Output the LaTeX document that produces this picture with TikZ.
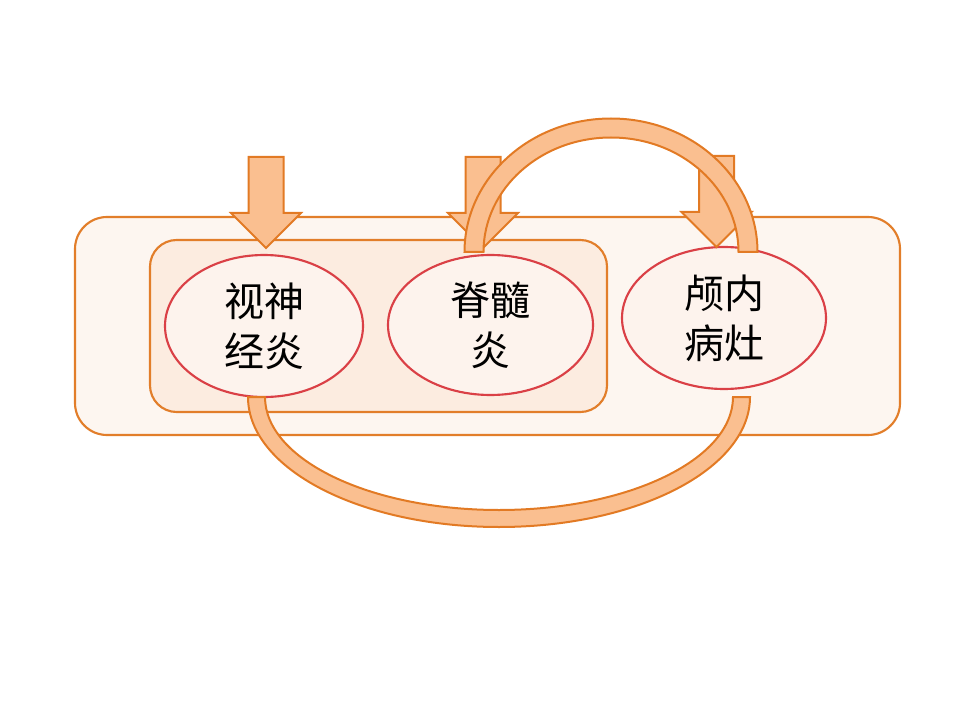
\documentclass[tikz,border=0pt]{standalone}
\usepackage{fontspec}
\newfontfamily\cjk{Noto Sans CJK SC}
\usetikzlibrary{shapes.geometric}
\definecolor{boxline}{RGB}{226,126,42}
\definecolor{outerfill}{RGB}{253,246,240}
\definecolor{innerfill}{RGB}{252,236,224}
\definecolor{ellline}{RGB}{218,64,70}
\definecolor{ellfill}{RGB}{253,243,237}
\definecolor{arrfill}{RGB}{250,191,144}
\definecolor{arrline}{RGB}{226,122,36}
\tikzset{
  outerbox/.style={draw=boxline, fill=outerfill, line width=1.6pt, rounded corners=24pt},
  innerbox/.style={draw=boxline, fill=innerfill, line width=1.6pt, rounded corners=20pt},
  ell/.style={ellipse, draw=ellline, fill=ellfill, line width=1.6pt, inner sep=0pt,
    align=center, font=\cjk\fontsize{30pt}{37.5pt}\selectfont},
  band/.style={draw=arrline, fill=arrfill, line width=1.5pt, line join=miter},
}
\begin{document}
\begin{tikzpicture}[x=0.75pt, y=-0.75pt]
\useasboundingbox (0,0) rectangle (960,720);
% containers
\draw[outerbox] (75,217) rectangle (900,435);
\draw[innerbox] (150,240) rectangle (607,412);
% ellipses
\node[ell, minimum width=148.5pt, minimum height=106.5pt] (e1) at (264,326) {视神\\经炎};
\node[ell, minimum width=153.75pt, minimum height=105pt] (e2) at (490.5,325) {脊髓\\炎};
\node[ell, minimum width=153pt, minimum height=106.5pt] (e3) at (724,318) {颅内\\病灶};
% down arrows (tips at the ellipses' tops)
\coordinate (t1) at (266,248);
\coordinate (t2) at (483,248);
\coordinate (t3) at (716.5,247);
\foreach \t in {t1,t2,t3}{
  \draw[band] ([shift={(-17.5,-91)}]\t) -- ([shift={(17.5,-91)}]\t) -- ([shift={(17.5,-35)}]\t)
    -- ([shift={(35,-35)}]\t) -- (\t) -- ([shift={(-35,-35)}]\t) -- ([shift={(-17.5,-35)}]\t) -- cycle;
}
% top arc band from e2 to e3
\draw[band] (464.5,252) arc[start angle=180, end angle=360, x radius=146.5, y radius=133.5]
  -- (738.5,252) arc[start angle=360, end angle=180, x radius=127.5, y radius=114.5] -- cycle;
% bottom arc band from e1 to e3
\draw[band] (248,397) arc[start angle=180, end angle=0, x radius=251, y radius=130]
  -- (733,397) arc[start angle=0, end angle=180, x radius=234, y radius=113] -- cycle;
\end{tikzpicture}
\end{document}
